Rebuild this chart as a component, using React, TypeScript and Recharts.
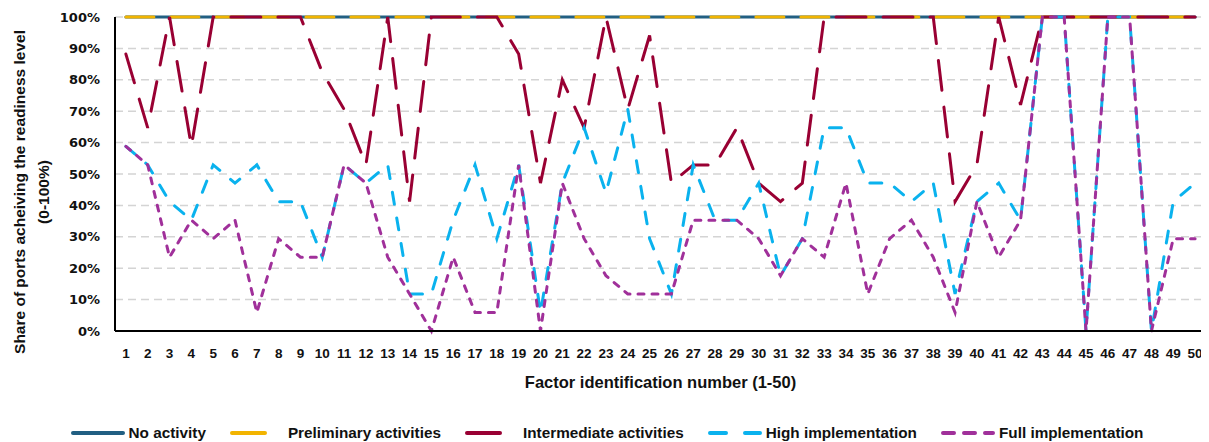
import React from 'react';
import { LineChart, Line, XAxis, YAxis, CartesianGrid, Legend, Label } from 'recharts';

// Factor ids along the x axis
const factors = [
  1, 2, 3, 4, 5, 6, 7, 8, 9, 10, 11, 12, 13, 14, 15, 16, 17, 18, 19, 20, 21, 22, 23, 24, 25,
  26, 27, 28, 29, 30, 31, 32, 33, 34, 35, 36, 37, 38, 39, 40, 41, 42, 43, 44, 45, 46, 47, 48, 49, 50,
];

// Share of ports (%) reaching each readiness level, per factor
const noActivity = [
  100, 100, 100, 100, 100, 100, 100, 100, 100, 100, 100, 100, 100, 100, 100, 100, 100, 100, 100, 100, 100, 100, 100, 100, 100,
  100, 100, 100, 100, 100, 100, 100, 100, 100, 100, 100, 100, 100, 100, 100, 100, 100, 100, 100, 100, 100, 100, 100, 100, 100,
];
const preliminary = [
  100, 100, 100, 100, 100, 100, 100, 100, 100, 100, 100, 100, 100, 100, 100, 100, 100, 100, 100, 100, 100, 100, 100, 100, 100,
  100, 100, 100, 100, 100, 100, 100, 100, 100, 100, 100, 100, 100, 100, 100, 100, 100, 100, 100, 100, 100, 100, 100, 100, 100,
];
const intermediate = [
  88.2, 64.7, 100, 58.8, 100, 100, 100, 100, 100, 82.4,
  70.6, 52.9, 100, 41.2, 100, 100, 100, 100, 88.2, 47.1,
  80, 64.7, 100, 70.6, 94.1, 47.1, 52.9, 52.9, 64.7, 47.1,
  41.2, 47.1, 100, 100, 100, 100, 100, 100, 41.2, 52.9,
  100, 72, 100, 100, 100, 100, 100, 100, 100, 100,
];
const highImpl = [
  58.8, 52.9, 41.2, 35.3, 52.9, 47.1, 52.9, 41.2, 41.2, 23.5,
  52.9, 47.1, 52.9, 11.8, 11.8, 35.3, 52.9, 29.4, 52.9, 5.9,
  47.1, 64.7, 44, 70.6, 29.4, 11.8, 52.9, 35.3, 35.3, 47.1,
  17.6, 29.4, 64.7, 64.7, 47.1, 47.1, 41.2, 47.1, 11.8, 41.2,
  47.1, 35.3, 100, 100, 0, 100, 100, 0, 41.2, 47.1,
];
const fullImpl = [
  58.8, 52.9, 23.5, 35.3, 29.4, 35.3, 5.9, 29.4, 23.5, 23.5,
  52.9, 47.1, 23.5, 11.8, 0, 23.5, 5.9, 5.9, 52.9, 0,
  47.1, 29.4, 17.6, 11.8, 11.8, 11.8, 35.3, 35.3, 35.3, 29.4,
  17.6, 29.4, 23.5, 47.1, 11.8, 29.4, 35.3, 23.5, 5.9, 41.2,
  23.5, 35.3, 100, 100, 0, 100, 100, 0, 29.4, 29.4,
];

const yTicks = [0, 10, 20, 30, 40, 50, 60, 70, 80, 90, 100];

const data = factors.map((f, i) => ({
  factor: String(f),
  noActivity: noActivity[i],
  preliminary: preliminary[i],
  intermediate: intermediate[i],
  highImpl: highImpl[i],
  fullImpl: fullImpl[i],
}));

const series = [
  { key: 'noActivity', name: 'No activity', color: '#215F82', dash: undefined, icon: undefined },
  { key: 'preliminary', name: 'Preliminary activities', color: '#F2B400', dash: '28 17', icon: '33 40' },
  { key: 'intermediate', name: 'Intermediate activities', color: '#990033', dash: '30 17', icon: '33 40' },
  { key: 'highImpl', name: 'High implementation', color: '#0AB2EE', dash: '12 14', icon: '16 19' },
  { key: 'fullImpl', name: 'Full implementation', color: '#A0309A', dash: '6 8', icon: '11 10' },
];

const FONT = '"Liberation Sans", Arial, sans-serif';

const renderLegend = () => (
  <div
    style={{
      display: 'flex',
      justifyContent: 'center',
      alignItems: 'center',
      height: 18,
      gap: 24,
      fontFamily: FONT,
      fontSize: 15.3,
      fontWeight: 700,
      color: '#111',
    }}
  >
    {series.map((s) => (
      <div key={s.key} style={{ display: 'flex', alignItems: 'center' }}>
        <svg width={54} height={8} style={{ marginRight: 4 }}>
          <line
            x1={2}
            x2={52}
            y1={4}
            y2={4}
            stroke={s.color}
            strokeWidth={4}
            strokeLinecap="round"
            strokeDasharray={s.icon}
          />
        </svg>
        <span style={{ whiteSpace: 'nowrap' }}>{s.name}</span>
      </div>
    ))}
  </div>
);

const XTitle = (props: any) => {
  const vb = props.viewBox || { x: 107, y: 323, width: 1091, height: 93 };
  return (
    <text
      x={vb.x + vb.width / 2}
      y={vb.y + 51}
      textAnchor="middle"
      dominantBaseline="central"
      fontSize={16.5}
      fontWeight={700}
      fill="#111"
    >
      Factor identification number (1-50)
    </text>
  );
};

const YTitle = () => (
  <g transform="translate(0, 184) rotate(-90)" fontSize={15.5} fontWeight={700} fill="#111">
    <text x={0} y={11} textAnchor="middle" dominantBaseline="central">
      Share of ports acheiving the readiness level
    </text>
    <text x={0} y={35} textAnchor="middle" dominantBaseline="central">
      (0-100%)
    </text>
  </g>
);

export default function App() {
  return (
    <div style={{ width: 1201, height: 434 }}>
      <LineChart
        width={1201}
        height={434}
        data={data}
        margin={{ top: 9, right: 3, left: 0, bottom: 0 }}
        style={{ fontFamily: FONT }}
      >
        <CartesianGrid vertical={false} stroke="#D4D4D4" strokeDasharray="8 5" strokeWidth={1.5} />
        <XAxis
          dataKey="factor"
          interval={0}
          padding={{ left: 10.9, right: 10.9 }}
          height={93}
          tickLine={false}
          tickMargin={11}
          axisLine={{ stroke: '#000', strokeWidth: 2 }}
          tick={{ fontSize: 13.5, fontWeight: 700, fill: '#111' }}
        >
          <Label content={XTitle} />
        </XAxis>
        <YAxis
          width={107}
          domain={[0, 100]}
          ticks={yTicks}
          tickFormatter={(v: number) => `${v}%`}
          tickLine={false}
          tickMargin={9}
          axisLine={{ stroke: '#000', strokeWidth: 2 }}
          tick={{ fontSize: 13, fontWeight: 700, fill: '#111', fontFamily: '"DejaVu Sans", sans-serif' }}
        >
          <Label content={YTitle} />
        </YAxis>
        <Legend verticalAlign="bottom" height={18} content={renderLegend} />
        {series.map((s) => (
          <Line
            key={s.key}
            type="linear"
            dataKey={s.key}
            name={s.name}
            stroke={s.color}
            strokeWidth={3}
            strokeDasharray={s.dash}
            strokeLinecap="round"
            dot={false}
            activeDot={false}
            isAnimationActive={false}
          />
        ))}
      </LineChart>
    </div>
  );
}
